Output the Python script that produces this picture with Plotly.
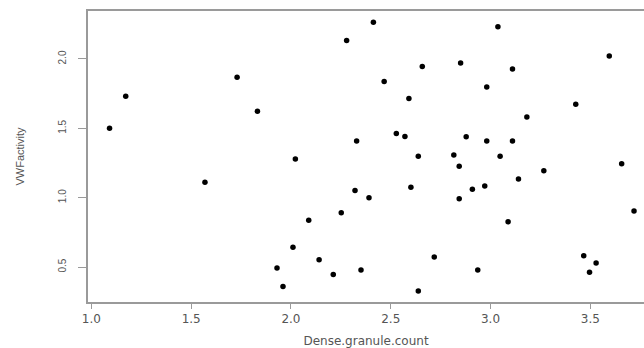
import plotly.graph_objects as go

dense_granule_count = [
    1.091, 1.172, 1.569, 1.730, 1.832, 2.413, 2.279, 2.658, 2.850, 2.467,
    2.591, 2.528, 2.571, 2.329, 2.638, 2.816, 2.022, 3.037, 3.595, 3.110,
    2.981, 3.427, 3.182, 2.878, 2.981, 3.110, 3.048, 2.843, 2.843, 2.321,
    2.391, 2.601, 2.252, 2.089, 2.010, 2.141, 1.930, 2.212, 2.351, 2.718,
    1.960, 2.638, 3.267, 3.140, 2.909, 2.971, 3.657, 3.719, 3.088, 3.467,
    3.529, 3.496, 2.936,
]
vwf_activity = [
    1.500, 1.731, 1.111, 1.868, 1.623, 2.264, 2.134, 1.945, 1.971, 1.837,
    1.716, 1.462, 1.442, 1.408, 1.298, 1.308, 1.279, 2.233, 2.021, 1.928,
    1.798, 1.673, 1.581, 1.440, 1.408, 1.408, 1.298, 1.226, 0.993, 1.051,
    1.000, 1.075, 0.892, 0.837, 0.642, 0.553, 0.493, 0.447, 0.478, 0.572,
    0.359, 0.327, 1.195, 1.134, 1.060, 1.084, 1.245, 0.904, 0.827, 0.582,
    0.529, 0.462, 0.478,
]
x_ticks = [1.0, 1.5, 2.0, 2.5, 3.0, 3.5]
y_ticks = [0.5, 1.0, 1.5, 2.0]

axis_color = "#9a9a9a"
text_color = "#555555"

fig = go.Figure(
    go.Scatter(
        x=dense_granule_count,
        y=vwf_activity,
        mode="markers",
        marker=dict(color="black", size=5.5, symbol="circle"),
        hoverinfo="x+y",
    )
)

fig.update_layout(
    width=644,
    height=348,
    margin=dict(l=88, r=0, t=11, b=46),
    paper_bgcolor="white",
    plot_bgcolor="white",
    showlegend=False,
    font=dict(family="Liberation Sans, Arial, sans-serif", size=11, color=text_color),
)

fig.update_xaxes(
    range=[0.983, 3.769],
    tickvals=x_ticks,
    ticktext=[f"{v:.1f}" for v in x_ticks],
    tickfont=dict(family="DejaVu Sans", size=12),
    ticks="outside",
    ticklen=5,
    tickcolor=axis_color,
    tickwidth=1,
    showline=True,
    linecolor=axis_color,
    linewidth=2,
    mirror=True,
    showgrid=False,
    zeroline=False,
    title=dict(text="Dense.granule.count", standoff=14,
               font=dict(family="DejaVu Sans", size=12)),
    automargin=False,
)

fig.update_yaxes(
    range=[0.248, 2.346],
    tickvals=y_ticks,
    ticktext=[f"{v:.1f}" for v in y_ticks],
    tickangle=-90,
    tickfont=dict(size=10),
    ticklabelstandoff=8,
    ticks="outside",
    ticklen=8,
    tickcolor=axis_color,
    tickwidth=1,
    showline=True,
    linecolor=axis_color,
    linewidth=2,
    mirror=False,
    showgrid=False,
    zeroline=False,
    title=dict(text="VWFactivity", standoff=30, font=dict(size=11)),
    automargin=False,
)

fig.write_html("out.html")
